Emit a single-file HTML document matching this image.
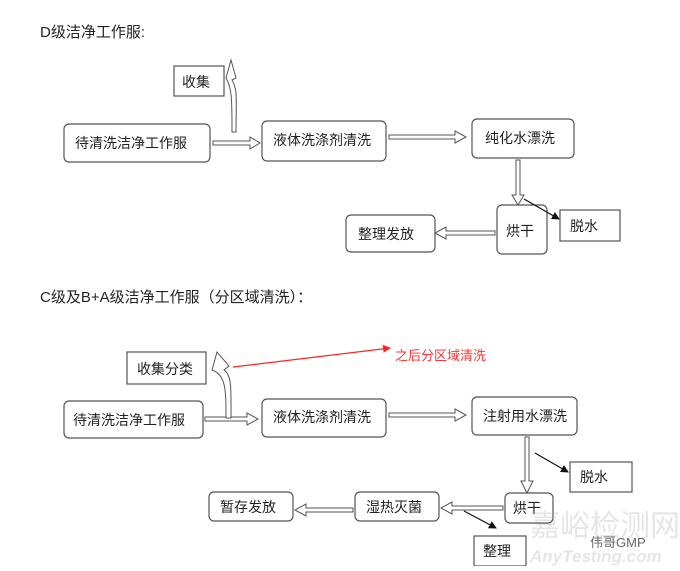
<!DOCTYPE html>
<html><head><meta charset="utf-8"><style>
html,body{margin:0;padding:0;background:#fff}
svg text{font-family:"Liberation Sans","Noto Sans CJK SC",sans-serif;fill:#222}
</style></head><body>
<svg width="680" height="566" viewBox="0 0 680 566" xmlns="http://www.w3.org/2000/svg">
<defs>
<marker id="ab" markerWidth="8" markerHeight="8" refX="7" refY="4" orient="auto" markerUnits="userSpaceOnUse"><path d="M0,0 L8,4 L0,8 z" fill="#111"/></marker>
<marker id="ar" markerWidth="8" markerHeight="8" refX="7" refY="4" orient="auto" markerUnits="userSpaceOnUse"><path d="M0,0 L8,4 L0,8 z" fill="#f22"/></marker>
</defs>
<g stroke="#555" stroke-width="1.2" fill="#fff">
<!-- section 1 -->
<rect x="174" y="66" width="50" height="30"/>
<rect x="64" y="124" width="146" height="38" rx="5"/>
<rect x="262" y="121" width="124" height="40" rx="5"/>
<rect x="472" y="119" width="102" height="39" rx="5"/>
<rect x="497" y="205" width="50" height="49" rx="5"/>
<rect x="560" y="210" width="60" height="31"/>
<rect x="346" y="215" width="89" height="37" rx="5"/>
<!-- section 2 -->
<rect x="127" y="352" width="79" height="32"/>
<rect x="64" y="401" width="139" height="37" rx="5"/>
<rect x="262" y="399" width="124" height="38" rx="5"/>
<rect x="472" y="397" width="105" height="38" rx="5"/>
<rect x="570" y="462" width="62" height="30"/>
<rect x="505" y="493" width="48" height="30" rx="5"/>
<rect x="355" y="492" width="84" height="29" rx="5"/>
<rect x="209" y="492" width="84" height="29" rx="5"/>
<rect x="474" y="536" width="52" height="30"/>
</g>
<g stroke="#555" stroke-width="1" fill="#fff">
<!-- hollow arrows section1 -->
<polygon points="213,141 250,141 250,137 260,143 250,149 250,145 213,145"/>
<polygon points="389,135 455,135 455,131 466,137 455,143 455,139 389,139"/>
<polygon points="516,160 520,160 520,195 524,195 518,205 512,195 516,195"/>
<polygon points="495,231 446,231 446,227 435,233 446,239 446,235 495,235"/>
<path d="M236,132 C236,100 238,90 232,80 L236,78 L231,60 L226,78 C232,88 232,100 232,132 z"/>
<!-- section2 -->
<polygon points="205,417 247,417 247,413 258,419 247,425 247,421 205,421"/>
<polygon points="389,413 455,413 455,409 466,415 455,421 455,417 389,417"/>
<polygon points="525,437 529,437 529,481 533,481 527,493 521,481 525,481"/>
<polygon points="503,506 452,506 452,502 441,508 452,514 452,510 503,510"/>
<polygon points="353,508 306,508 306,504 295,510 306,516 306,512 353,512"/>
<path d="M231,418 C231,390 232,375 224,370 L229,366 L217,352 L212,370 C226,375 226,390 226,418 z"/>
</g>
<g stroke="#111" stroke-width="1.2">
<line x1="524" y1="199" x2="559" y2="219" marker-end="url(#ab)"/>
<line x1="535" y1="453" x2="568" y2="472" marker-end="url(#ab)"/>
<line x1="464" y1="511" x2="496" y2="528" marker-end="url(#ab)"/>
</g>
<line x1="233" y1="367" x2="390" y2="348" stroke="#f22" stroke-width="1.2" marker-end="url(#ar)"/>
<g font-size="14">
<text x="40" y="37" font-size="15">D级洁净工作服:</text>
<text x="182" y="87">收集</text>
<text x="75" y="148">待清洗洁净工作服</text>
<text x="273" y="145">液体洗涤剂清洗</text>
<text x="485" y="143">纯化水漂洗</text>
<text x="506" y="236">烘干</text>
<text x="570" y="231">脱水</text>
<text x="358" y="239">整理发放</text>
<text x="40" y="302" font-size="15">C级及B+A级洁净工作服（分区域清洗）：</text>
<text x="137" y="374">收集分类</text>
<text x="395" y="360" style="fill:#f33" font-size="13">之后分区域清洗</text>
<text x="73" y="425">待清洗洁净工作服</text>
<text x="273" y="422">液体洗涤剂清洗</text>
<text x="483" y="421">注射用水漂洗</text>
<text x="580" y="482">脱水</text>
<text x="513" y="513">烘干</text>
<text x="366" y="512">湿热灭菌</text>
<text x="220" y="512">暂存发放</text>
<text x="483" y="556">整理</text>
</g>
<g opacity="0.25">
<text x="530" y="536" font-size="30" style="fill:#999">嘉峪检测网</text>
<text x="530" y="562" font-size="17" font-style="italic" font-weight="bold" style="fill:#999">AnyTesting.com</text>
</g>
<text x="590" y="547" font-size="13" style="fill:#666">伟哥GMP</text>
</svg>
</body></html>
